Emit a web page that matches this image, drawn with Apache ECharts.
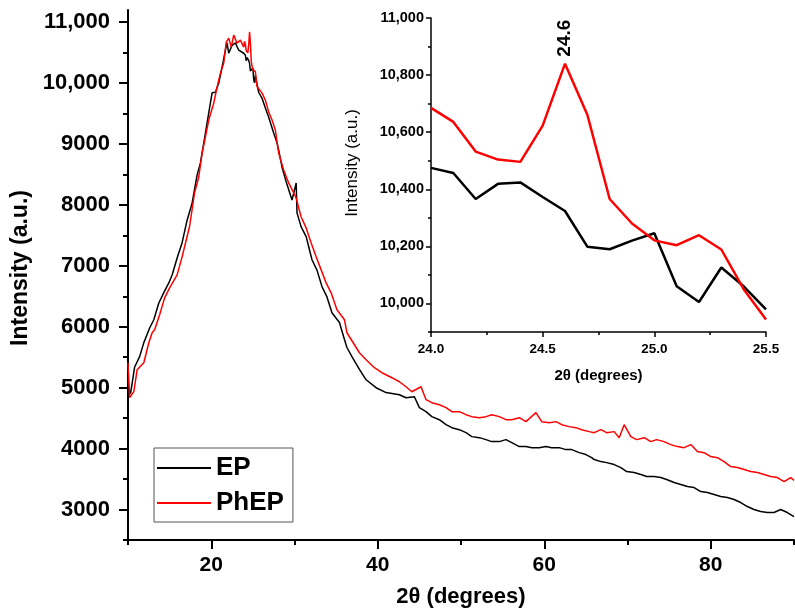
<!DOCTYPE html>
<html>
<head>
<meta charset="utf-8">
<script src="https://cdn.jsdelivr.net/npm/echarts@6/dist/echarts.min.js"></script>
<style>
html,body{margin:0;padding:0;background:#fff;}
#chart{width:795px;height:614px;}
</style>
</head>
<body>
<div id="chart"></div>
<script>
// ---- main chart data (2θ in degrees, intensity a.u.) ----
var epX = [10.0,10.3,10.8,11.4,11.9,12.6,13.1,13.7,14.3,14.9,15.3,15.9,16.5,17.1,17.7,18.3,18.7,19.3,19.7,20.1,20.5,20.9,21.3,21.7,21.9,22.1,22.5,22.9,23.3,23.9,
  25.7,26.1,26.5,26.9,27.5,27.9,28.1,28.5,29.0,29.7,30.2,30.3,30.8,31.4,32.1,32.7,33.3,33.9,34.5,35.4,36.0,36.3,36.9,37.8,38.6,39.8,41.0,
  42.6,43.4,44.4,45.0,45.8,46.5,47.4,48.2,48.9,49.8,50.6,51.3,52.2,53.0,53.7,54.6,55.4,56.1,57.0,57.8,58.5,59.4,60.2,60.9,61.8,62.6,63.3,64.2,65.0,65.7,
  66.0,66.8,67.5,68.4,69.2,69.9,70.8,71.6,72.3,73.2,74.0,74.7,75.6,76.4,77.2,78.0,78.8,79.6,80.4,81.2,82.0,82.8,83.6,84.4,85.2,86.0,86.8,87.6,88.4,89.2,90.0];
var epY = [5020,4900,5340,5510,5740,5980,6115,6390,6560,6720,6850,7130,7380,7750,8030,8490,8690,9180,9510,9840,9850,10000,10260,10540,10660,10490,10620,10660,10540,10490,
  9850,9750,9590,9440,9180,9020,8900,8620,8380,8080,8360,7870,7640,7480,7100,6930,6660,6490,6230,6070,5790,5660,5510,5300,5130,5000,4920,
  4885,4836,4852,4672,4607,4525,4475,4393,4344,4311,4262,4197,4180,4148,4115,4115,4148,4098,4033,4033,4016,4016,4033,4016,4016,3984,3984,3934,3902,3852,
  3820,3787,3770,3738,3689,3623,3607,3574,3541,3541,3525,3492,3443,3410,3377,3361,3295,3279,3246,3213,3197,3164,3115,3049,3000,2967,2951,2951,3000,2951,2885];

var phepX = [10.0,10.2,10.7,11.1,11.9,12.5,12.9,13.2,13.8,14.4,15.0,15.9,16.5,17.4,18.0,18.5,18.9,19.3,19.7,20.3,20.7,21.1,21.5,21.8,22.1,22.4,22.7,23.1,23.5,23.9,
  25.7,26.1,26.5,26.9,27.3,27.7,28.1,28.7,29.3,30.2,30.8,31.4,32.0,32.6,33.2,33.8,34.4,35.1,36.0,36.3,37.2,37.8,38.6,39.6,40.5,41.7,
  42.6,43.4,44.1,45.2,45.8,46.5,47.4,48.2,48.9,49.8,50.6,51.3,52.2,53.0,53.7,54.6,55.4,56.1,57.0,57.8,59.0,59.7,60.6,61.4,62.1,63.0,63.8,64.5,65.4,
  66.0,66.8,67.5,68.4,69.0,69.6,70.4,71.1,72.0,72.8,73.5,74.4,75.2,76.0,76.8,77.6,78.4,79.2,80.0,80.8,81.6,82.4,83.2,84.0,84.8,85.6,86.4,87.2,88.0,88.8,89.6,90.0];
var phepY = [5410,4836,4935,5295,5410,5738,5902,5951,6197,6475,6640,6852,7148,7650,8200,8459,8852,9115,9393,9672,9934,10164,10328,10672,10738,10590,10787,10656,10705,10590,
  9934,9836,9721,9525,9393,9230,8852,8574,8361,8115,7803,7623,7377,7148,6934,6721,6557,6279,6115,5902,5705,5574,5459,5328,5246,5164,
  5098,5016,4934,5016,4803,4754,4721,4672,4607,4607,4557,4525,4508,4525,4557,4525,4475,4475,4508,4443,4590,4443,4426,4443,4393,4361,4344,4311,4279,
  4262,4311,4262,4279,4180,4393,4197,4148,4180,4115,4148,4115,4066,4033,4016,4066,3951,3934,3869,3852,3787,3705,3689,3656,3623,3607,3574,3541,3525,3459,3525,3480];

// ---- inset data (24.0 - 25.5 degrees) ----
var insetX = [24.0,24.1,24.2,24.3,24.4,24.5,24.6,24.7,24.8,24.9,25.0,25.1,25.2,25.3,25.4,25.5];
var insetEP = [10475,10457,10366,10419,10424,10373,10324,10199,10190,10220,10246,10060,10005,10126,10060,9979];
var insetPhEP = [10685,10636,10532,10504,10496,10623,10840,10661,10366,10280,10221,10204,10239,10189,10050,9944];
var peakIndex = 6;

// ---- tick values ----
var mainXMajor = [20,40,60,80];
var mainXMinor = [10,30,50,70,90];
var mainYMajor = [3000,4000,5000,6000,7000,8000,9000,10000,11000];
var mainYMinor = [2500,3500,4500,5500,6500,7500,8500,9500,10500];
var insetYMajor = [10000,10200,10400,10600,10800,11000];
var insetYMinor = [9900,10100,10300,10500,10700,10900];

function mergeMain(xs, ys, ix, iy) {
  var out = [];
  for (var i = 0; i < xs.length; i++) if (xs[i] < ix[0]) out.push([xs[i], ys[i]]);
  for (var j = 0; j < ix.length; j++) out.push([ix[j], iy[j]]);
  for (var k = 0; k < xs.length; k++) if (xs[k] > ix[ix.length - 1]) out.push([xs[k], ys[k]]);
  return out;
}
function pairs(xs, ys) { return xs.map(function (x, i) { return [x, ys[i]]; }); }
function comma(v) { return String(v).replace(/\B(?=(\d{3})+(?!\d))/g, ','); }

var FONT = 'Liberation Sans, Arial, Helvetica, sans-serif';
var chart = echarts.init(document.getElementById('chart'), null, {renderer: 'canvas'});

var option = {
  animation: false,
  backgroundColor: '#fff',
  grid: [
    {left: 128, top: 10, width: 666, height: 530},
    {left: 431, top: 18, width: 335, height: 314}
  ],
  legend: {
    data: ['EP', 'PhEP'],
    orient: 'vertical',
    left: 154, top: 448,
    icon: 'rect', itemWidth: 54, itemHeight: 2, itemGap: 9,
    backgroundColor: '#fff', borderColor: '#555', borderWidth: 1,
    padding: [7, 9, 6, 3],
    textStyle: {fontFamily: FONT, fontWeight: 'bold', fontSize: 26, color: '#000'}
  },
  xAxis: [
    {
      gridIndex: 0, type: 'value', min: 10, max: 90, position: 'bottom',
      axisLine: {lineStyle: {color: '#000', width: 2}},
      axisTick: {customValues: mainXMajor, length: 9, lineStyle: {color: '#000', width: 2}},
      axisLabel: {customValues: mainXMajor, margin: 15, fontFamily: FONT, fontWeight: 'bold', fontSize: 21, color: '#000'},
      splitLine: {show: false},
      name: '2θ (degrees)', nameLocation: 'middle', nameGap: 46,
      nameTextStyle: {fontFamily: FONT, fontWeight: 'bold', fontSize: 22, color: '#000'}
    },
    {
      gridIndex: 0, type: 'value', min: 10, max: 90, position: 'bottom',
      axisLine: {show: false},
      axisTick: {customValues: mainXMinor, length: 5, lineStyle: {color: '#000', width: 2}},
      axisLabel: {show: false}, splitLine: {show: false}
    },
    {
      gridIndex: 1, type: 'value', min: 24, max: 25.5, interval: 0.5, position: 'bottom',
      axisLine: {lineStyle: {color: '#000', width: 1.5}},
      axisTick: {length: 5, lineStyle: {color: '#000', width: 1.5}},
      minorTick: {show: true, splitNumber: 2, length: 3, lineStyle: {color: '#000', width: 1.5}},
      axisLabel: {margin: 10, formatter: function (v) { return v.toFixed(1); }, fontFamily: FONT, fontWeight: 'bold', fontSize: 13.5, color: '#000'},
      splitLine: {show: false}, minorSplitLine: {show: false},
      name: '2θ (degrees)', nameLocation: 'middle', nameGap: 36,
      nameTextStyle: {fontFamily: FONT, fontWeight: 'bold', fontSize: 15, color: '#000'}
    }
  ],
  yAxis: [
    {
      gridIndex: 0, type: 'value', min: 2500, max: 11200, position: 'left',
      axisLine: {lineStyle: {color: '#000', width: 2}},
      axisTick: {customValues: mainYMajor, length: 9, lineStyle: {color: '#000', width: 2}},
      axisLabel: {customValues: mainYMajor, margin: 18, formatter: function (v) { return v >= 10000 ? comma(v) : String(v); },
        fontFamily: FONT, fontWeight: 'bold', fontSize: 22, color: '#000'},
      splitLine: {show: false},
      name: 'Intensity (a.u.)', nameLocation: 'middle', nameGap: 78,
      nameTextStyle: {fontFamily: FONT, fontWeight: 'bold', fontSize: 23, color: '#000', padding: [0, 0, 0, 14]}
    },
    {
      gridIndex: 0, type: 'value', min: 2500, max: 11200, position: 'left',
      axisLine: {show: false},
      axisTick: {customValues: mainYMinor, length: 5, lineStyle: {color: '#000', width: 2}},
      axisLabel: {show: false}, splitLine: {show: false}
    },
    {
      gridIndex: 1, type: 'value', min: 9900, max: 11000, position: 'left',
      axisLine: {lineStyle: {color: '#000', width: 1.5}},
      axisTick: {customValues: insetYMajor, length: 5, lineStyle: {color: '#000', width: 1.5}},
      axisLabel: {customValues: insetYMajor, margin: 7, formatter: function (v) { return comma(v); },
        fontFamily: FONT, fontWeight: 'bold', fontSize: 14.5, color: '#000'},
      splitLine: {show: false},
      name: 'Intensity (a.u.)', nameLocation: 'middle', nameGap: 70,
      nameTextStyle: {fontFamily: FONT, fontWeight: 'normal', fontSize: 17, color: '#000', padding: [0, 0, 0, 24]}
    },
    {
      gridIndex: 1, type: 'value', min: 9900, max: 11000, position: 'left',
      axisLine: {show: false},
      axisTick: {customValues: insetYMinor, length: 3, lineStyle: {color: '#000', width: 1.5}},
      axisLabel: {show: false}, splitLine: {show: false}
    }
  ],
  series: [
    {name: 'EP', type: 'line', xAxisIndex: 0, yAxisIndex: 0, showSymbol: false, symbol: 'none',
      lineStyle: {color: '#000', width: 1.5}, itemStyle: {color: '#000'},
      data: mergeMain(epX, epY, insetX, insetEP)},
    {name: 'PhEP', type: 'line', xAxisIndex: 0, yAxisIndex: 0, showSymbol: false, symbol: 'none',
      lineStyle: {color: '#ff0000', width: 1.5}, itemStyle: {color: '#ff0000'},
      data: mergeMain(phepX, phepY, insetX, insetPhEP)},
    {name: 'EP', type: 'line', xAxisIndex: 2, yAxisIndex: 2, showSymbol: false, symbol: 'none',
      lineStyle: {color: '#000', width: 2.5}, itemStyle: {color: '#000'},
      data: pairs(insetX, insetEP)},
    {name: 'PhEP', type: 'line', xAxisIndex: 2, yAxisIndex: 2, showSymbol: false, symbol: 'none',
      lineStyle: {color: '#ff0000', width: 2.5}, itemStyle: {color: '#ff0000'},
      data: pairs(insetX, insetPhEP),
      markPoint: {
        symbol: 'circle', symbolSize: 2,
        itemStyle: {color: 'rgba(255,0,0,0)'},
        label: {
          show: true, position: 'top', distance: 6, rotate: 90, align: 'left', verticalAlign: 'middle',
          formatter: function () { return insetX[peakIndex].toFixed(1); },
          fontFamily: FONT, fontWeight: 'bold', fontSize: 19, color: '#000'
        },
        data: [{coord: [insetX[peakIndex], insetPhEP[peakIndex]]}]
      }}
  ]
};
chart.setOption(option);
</script>
</body>
</html>
